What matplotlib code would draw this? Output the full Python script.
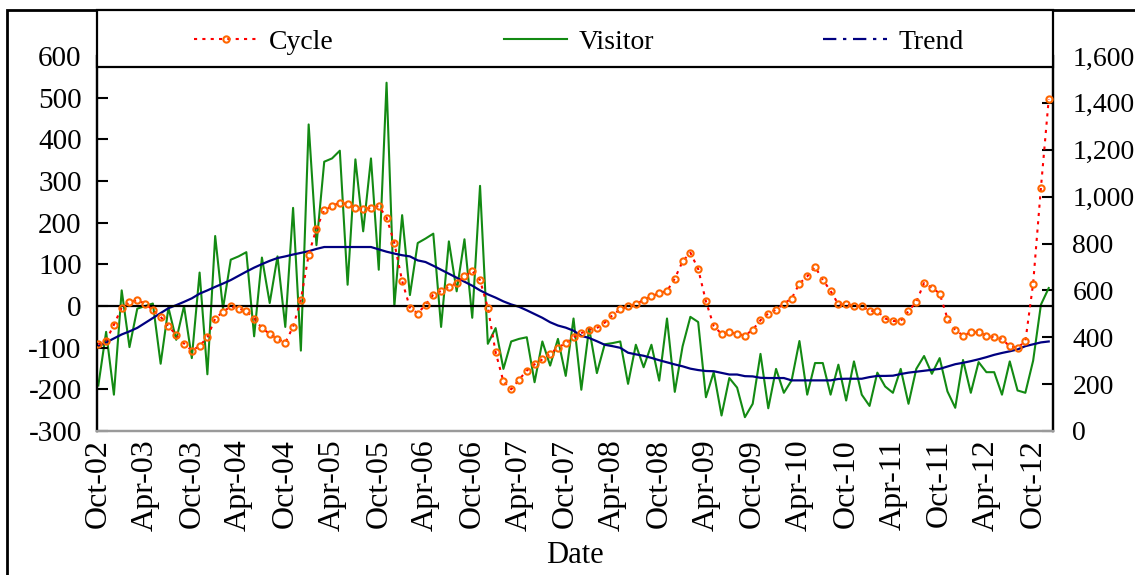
import matplotlib
matplotlib.use("Agg")
import matplotlib.pyplot as plt
from matplotlib.lines import Line2D
from matplotlib.patches import Rectangle
from matplotlib.ticker import FuncFormatter, FixedLocator
import numpy as np

plt.rcParams['font.family'] = ['Liberation Serif', 'DejaVu Serif']
plt.rcParams['axes.unicode_minus'] = False

# Monthly series, Oct-02 .. Dec-12 (123 months)
cycle = [-92, -83, -45, -4, 9, 14, 6, -10, -26, -48,
         -70, -90, -107, -96, -75, -30, -14, -1, -6, -12,
         -30, -53, -67, -79, -88, -50, 15, 123, 186, 230,
         240, 248, 244, 236, 232, 236, 240, 212, 151, 60,
         -4, -18, 3, 27, 36, 46, 55, 71, 84, 62,
         -4, -111, -181, -200, -177, -155, -140, -128, -115, -100,
         -89, -75, -65, -57, -53, -40, -22, -8, -1, 4,
         15, 23, 31, 36, 66, 107, 128, 89, 11, -48,
         -67, -63, -67, -71, -57, -34, -18, -9, 6, 18,
         54, 71, 94, 63, 36, 4, 4, 0, 0, -12,
         -12, -30, -36, -36, -12, 10, 55, 44, 30, -30,
         -57, -71, -63, -63, -71, -75, -79, -97, -100, -85,
         54, 284, 496]

visitor = [194, 423, 155, 600, 358, 522, 533, 544, 287, 526,
           389, 533, 311, 676, 242, 832, 522, 731, 745, 763,
           404, 740, 546, 745, 444, 952, 343, 1308, 793, 1149,
           1163, 1196, 624, 1159, 852, 1163, 688, 1486, 533, 921,
           580, 802, 821, 842, 444, 809, 596, 818, 483, 1046,
           372, 439, 265, 382, 393, 400, 208, 382, 279, 393,
           235, 480, 176, 439, 247, 370, 375, 382, 201, 368,
           272, 368, 215, 480, 167, 361, 487, 465, 144, 251,
           66, 226, 185, 59, 116, 329, 97, 265, 163, 216,
           384, 155, 290, 290, 155, 283, 130, 297, 155, 107,
           249, 190, 163, 265, 116, 265, 320, 244, 311, 169,
           99, 303, 163, 294, 251, 251, 155, 297, 173, 163,
           300, 539, 610]

trend = [361, 378, 395, 412, 425, 440, 461, 482, 503, 524,
         537, 551, 566, 586, 600, 615, 629, 644, 662, 680,
         697, 712, 726, 738, 745, 753, 760, 767, 777, 785,
         785, 785, 785, 785, 785, 785, 775, 765, 757, 750,
         745, 728, 721, 705, 688, 671, 654, 637, 620, 600,
         583, 569, 553, 540, 530, 515, 499, 483, 464, 450,
         441, 428, 406, 397, 383, 368, 362, 355, 334, 327,
         321, 312, 302, 293, 284, 276, 266, 260, 256, 255,
         248, 241, 241, 234, 233, 227, 226, 226, 226, 216,
         216, 216, 216, 216, 216, 222, 223, 223, 223, 230,
         235, 235, 236, 243, 249, 253, 257, 261, 265, 275,
         285, 291, 298, 306, 315, 325, 333, 340, 348, 362,
         370, 378, 382]

tick_labels = ["Oct-02", "Apr-03", "Oct-03", "Apr-04", "Oct-04", "Apr-05",
               "Oct-05", "Apr-06", "Oct-06", "Apr-07", "Oct-07", "Apr-08",
               "Oct-08", "Apr-09", "Oct-09", "Apr-10", "Oct-10", "Apr-11",
               "Oct-11", "Apr-12", "Oct-12"]
left_ticks = [-300, -200, -100, 0, 100, 200, 300, 400, 500, 600]
right_ticks = [0, 200, 400, 600, 800, 1000, 1200, 1400, 1600]

W, H = 1135, 575
fig = plt.figure(figsize=(W / 100, H / 100), dpi=100)

L, R, T, B = 97, 1053, 56, 431
ax = fig.add_axes([L / W, 1 - B / H, (R - L) / W, (B - T) / H])
ax2 = ax.twinx()

x = np.arange(len(cycle))
FS_Y = 20
FS_X = 23

# right axis: visitor + trend
ax2.plot(x, visitor, color='#138a13', lw=1.5, zorder=2)
ax2.plot(x, trend, color='#000080', lw=1.6, zorder=3)
ax2.set_ylim(0, 1600)
ax2.yaxis.set_major_locator(FixedLocator(right_ticks))
ax2.yaxis.set_major_formatter(FuncFormatter(lambda v, p: f"{int(v):,}"))

# left axis: cycle
ax.set_zorder(ax2.get_zorder() + 1)
ax.patch.set_visible(False)
ax.axhline(0, color='black', lw=1.6, zorder=1)
ax.plot(x, cycle, color='red', lw=1.5, linestyle=(0, (1.5, 2.5)),
        marker='o', markersize=4.5, markerfacecolor='none',
        markeredgecolor='#FF6600', markeredgewidth=1.5, zorder=4)
ax.set_ylim(-300, 600)
ax.yaxis.set_major_locator(FixedLocator(left_ticks))
ax.set_xlim(-0.17, 122.55)
ax.set_xticks(np.arange(0, 121, 6))
ax.set_xticklabels(tick_labels, rotation=90, fontsize=FS_X)
ax.tick_params(axis='x', length=0, pad=6)
ax.tick_params(axis='y', direction='in', length=8, width=1.5, labelsize=FS_Y + 1, pad=11)
ax2.tick_params(axis='y', direction='in', length=8, width=1.5, labelsize=FS_Y, pad=14)
ax.set_xlabel("Date", fontsize=22, labelpad=7)

for a in (ax, ax2):
    a.spines['top'].set_visible(False)
    a.spines['left'].set_linewidth(1.6)
    a.spines['right'].set_linewidth(1.6)
    a.spines['bottom'].set_color('#9a9a9a')
    a.spines['bottom'].set_linewidth(1.6)

# outer frame
fig.patches.append(Rectangle((7 / W, -0.05), 1.2, 1 - 10 / H + 0.05,
                             transform=fig.transFigure, fill=False,
                             edgecolor='black', lw=2, zorder=10))
# legend box
fig.patches.append(Rectangle((L / W, 1 - 67 / H), (R - L) / W, 57 / H,
                             transform=fig.transFigure, facecolor='white',
                             edgecolor='black', lw=1.6, zorder=11))

handles = [
    Line2D([], [], color='red', lw=1.5, linestyle=(0, (1.5, 2.5)), marker='o',
           markersize=4.5, markerfacecolor='none', markeredgecolor='#FF6600',
           markeredgewidth=1.5),
    Line2D([], [], color='#138a13', lw=1.5),
    Line2D([], [], color='#000080', lw=1.6, linestyle=(0, (6, 3, 1.5, 3))),
]
leg = fig.legend(handles, ["Cycle", "Visitor", "Trend"], ncol=3, loc='center',
                 bbox_to_anchor=(579 / W, 1 - 42 / H), frameon=False,
                 fontsize=20, handlelength=2.3, handletextpad=0.4,
                 columnspacing=6.1, numpoints=1)
leg.set_zorder(12)

fig.savefig("out.png", dpi=100)
